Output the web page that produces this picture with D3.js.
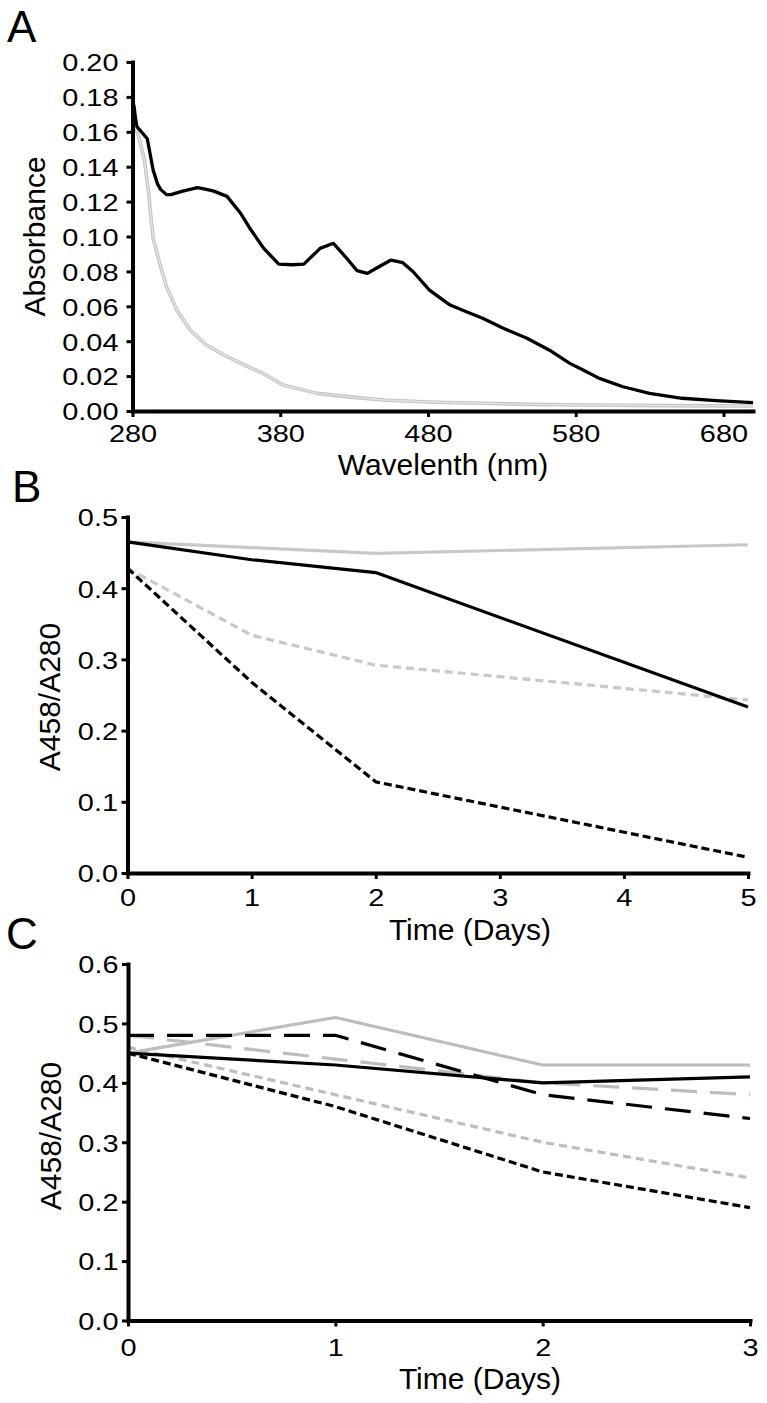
<!DOCTYPE html>
<html><head><meta charset="utf-8">
<script src="https://cdn.jsdelivr.net/npm/d3@7"></script>
<style>
html,body{margin:0;padding:0;background:#fff;}
svg text{font-family:"Liberation Sans",Arial,sans-serif;fill:#000;}
</style></head><body>
<svg id="chart" width="767" height="1403"></svg>
<script>
// ---------- Panel A data ----------
const wavelengthSample = [280,281,282,283,286,290,294,297,299,303,306,314,324,330,335,344,353,360,369,379,388,396,407,416,425,432,439,445,455,463,470,481,495,506,517,531,547,562,576,585,596,612,630,652,675,700];
const absorbanceSample = [0.172,0.175,0.168,0.163,0.160,0.156,0.138,0.130,0.127,0.124,0.124,0.126,0.128,0.127,0.126,0.123,0.1135,0.104,0.093,0.0842,0.0838,0.0842,0.0932,0.0961,0.0875,0.0804,0.0789,0.0818,0.0865,0.085,0.0798,0.0693,0.0607,0.0569,0.0531,0.0474,0.0417,0.035,0.0273,0.0235,0.0187,0.0139,0.0101,0.0073,0.0059,0.0048];
const wavelengthControl = [281,284,288,291,292,294,299,303,310,319,330,344,358,367,382,405,430,450,480,517,550,585,640,700];
const absorbanceControl = [0.165,0.158,0.144,0.125,0.115,0.099,0.0827,0.0712,0.0579,0.0464,0.0378,0.0311,0.0254,0.0222,0.0149,0.0101,0.0078,0.0063,0.0052,0.0044,0.0038,0.0034,0.0031,0.0029];
const ticksAx = [280,380,480,580,680];
const ticksAy = [0,0.02,0.04,0.06,0.08,0.10,0.12,0.14,0.16,0.18,0.20];

// ---------- Panel B data ----------
const daysB = [0,1,2,5];
const greySolidB  = [0.465,0.457,0.449,0.461];
const blackSolidB = [0.465,0.440,0.422,0.233];
const greyDashB   = [0.428,0.334,0.292,0.243];
const blackDashB  = [0.428,0.268,0.128,0.022];
const ticksBx = [0,1,2,3,4,5];
const ticksBy = [0,0.1,0.2,0.3,0.4,0.5];

// ---------- Panel C data ----------
const daysC = [0,1,2,3];
const greySolidC     = [0.45,0.51,0.43,0.43];
const blackLongDashC = [0.48,0.48,0.38,0.34];
const greyLongDashC  = [0.48,0.44,0.40,0.38];
const blackSolidC    = [0.45,0.43,0.40,0.41];
const greyShortDashC = [0.46,0.38,0.30,0.24];
const blackShortDashC= [0.45,0.36,0.25,0.19];
const ticksCx = [0,1,2,3];
const ticksCy = [0,0.1,0.2,0.3,0.4,0.5,0.6];

const svg = d3.select("#chart");
const FONT = '"Liberation Sans", Arial, sans-serif';
const TICK_FS = 24.5, SX = 1.18;

function styleAxis(g, orient, labelOffset){
  g.attr("font-family", FONT).attr("font-size", TICK_FS);
  g.select(".domain").attr("stroke-width",4).attr("stroke-linecap","square");
  g.selectAll(".tick line").attr("stroke-width",3);
  const t = g.selectAll(".tick text").attr("fill","#000").attr("transform",`scale(${SX},1)`);
  if(orient==="left"){ t.attr("x", -labelOffset/SX).attr("dy","0.36em"); }
  else { t.attr("y", labelOffset).attr("dy","0.71em"); }
}

function addText(x,y,txt,size,anchor,rot){
  const t = svg.append("text").attr("font-size",size).attr("text-anchor",anchor||"start").text(txt);
  if(rot){ t.attr("transform",`translate(${x},${y}) rotate(${rot})`); }
  else { t.attr("x",x).attr("y",y); }
  return t;
}

// ================= Panel A =================
const xA = d3.scaleLinear().domain([280,700]).range([132.5,753]);
const yA = d3.scaleLinear().domain([0,0.2]).range([411,62]);
const lineA = (xs,ys) => d3.line().x((d,i)=>xA(xs[i])).y((d,i)=>yA(ys[i]))(xs);

svg.append("path").attr("d",lineA(wavelengthControl,absorbanceControl))
  .attr("fill","none").attr("stroke","#c4c4c4").attr("stroke-width",3.6).attr("stroke-linejoin","round");
svg.append("path").attr("d",lineA(wavelengthControl,absorbanceControl))
  .attr("fill","none").attr("stroke","#e4e4e4").attr("stroke-width",1.4).attr("stroke-linejoin","round");
svg.append("path").attr("d",lineA(wavelengthSample,absorbanceSample))
  .attr("fill","none").attr("stroke","#000").attr("stroke-width",3.3).attr("stroke-linejoin","round");

svg.append("g").attr("transform","translate(0,411)")
  .call(d3.axisBottom(xA).tickValues(ticksAx).tickSize(6).tickSizeOuter(0).tickFormat(d3.format("d")))
  .call(g=>styleAxis(g,"bottom",13.5));
svg.append("g").attr("transform","translate(132.5,0)")
  .call(d3.axisLeft(yA).tickValues(ticksAy).tickSize(6).tickSizeOuter(0).tickFormat(d3.format(".2f")))
  .call(g=>styleAxis(g,"left",14));

addText(7,42,"A",44);
addText(45,236.5,"Absorbance",30,"middle",-90);
addText(443,475,"Wavelenth (nm)",30,"middle");

// ================= Panel B =================
const xB = d3.scaleLinear().domain([0,5]).range([127.5,748]);
const yB = d3.scaleLinear().domain([0,0.5]).range([873,517]);
const lineB = ys => d3.line().x((d,i)=>xB(daysB[i])).y(d=>yB(d))(ys);
const seriesB = [
  {v:greySolidB, c:"#c8c8c8", dash:null},
  {v:greyDashB,  c:"#c8c8c8", dash:"8,5"},
  {v:blackSolidB,c:"#000",    dash:null},
  {v:blackDashB, c:"#000",    dash:"8,4"}
];
seriesB.forEach(s=>{
  svg.append("path").attr("d",lineB(s.v)).attr("fill","none").attr("stroke",s.c)
    .attr("stroke-width",3.2).attr("stroke-dasharray",s.dash).attr("stroke-linejoin","round");
});
svg.append("g").attr("transform","translate(0,873)")
  .call(d3.axisBottom(xB).tickValues(ticksBx).tickSize(6).tickSizeOuter(0).tickFormat(d3.format("d")))
  .call(g=>styleAxis(g,"bottom",15.5));
svg.append("g").attr("transform","translate(127.5,0)")
  .call(d3.axisLeft(yB).tickValues(ticksBy).tickSize(6).tickSizeOuter(0).tickFormat(d3.format(".1f")))
  .call(g=>styleAxis(g,"left",9.5));

addText(12,502,"B",44);
addText(60,697,"A458/A280",30,"middle",-90);
addText(470,940,"Time (Days)",30,"middle");

// ================= Panel C =================
const xC = d3.scaleLinear().domain([0,3]).range([128,750]);
const yC = d3.scaleLinear().domain([0,0.6]).range([1320.5,964]);
const lineC = ys => d3.line().x((d,i)=>xC(daysC[i])).y(d=>yC(d))(ys);
const seriesC = [
  {v:greySolidC,     c:"#bdbdbd", dash:null},
  {v:greyLongDashC,  c:"#bdbdbd", dash:"26,13"},
  {v:greyShortDashC, c:"#bdbdbd", dash:"8,5"},
  {v:blackLongDashC, c:"#000",    dash:"26,13"},
  {v:blackSolidC,    c:"#000",    dash:null},
  {v:blackShortDashC,c:"#000",    dash:"8,4"}
];
seriesC.forEach(s=>{
  svg.append("path").attr("d",lineC(s.v)).attr("fill","none").attr("stroke",s.c)
    .attr("stroke-width",3.2).attr("stroke-dasharray",s.dash).attr("stroke-linejoin","round");
});
svg.append("g").attr("transform","translate(0,1320.5)")
  .call(d3.axisBottom(xC).tickValues(ticksCx).tickSize(6).tickSizeOuter(0).tickFormat(d3.format("d")))
  .call(g=>styleAxis(g,"bottom",18.5));
svg.append("g").attr("transform","translate(128,0)")
  .call(d3.axisLeft(yC).tickValues(ticksCy).tickSize(6).tickSizeOuter(0).tickFormat(d3.format(".1f")))
  .call(g=>styleAxis(g,"left",9.5));

addText(6,949,"C",44);
addText(61,1136,"A458/A280",30,"middle",-90);
addText(480,1389,"Time (Days)",30,"middle");
</script></body></html>
